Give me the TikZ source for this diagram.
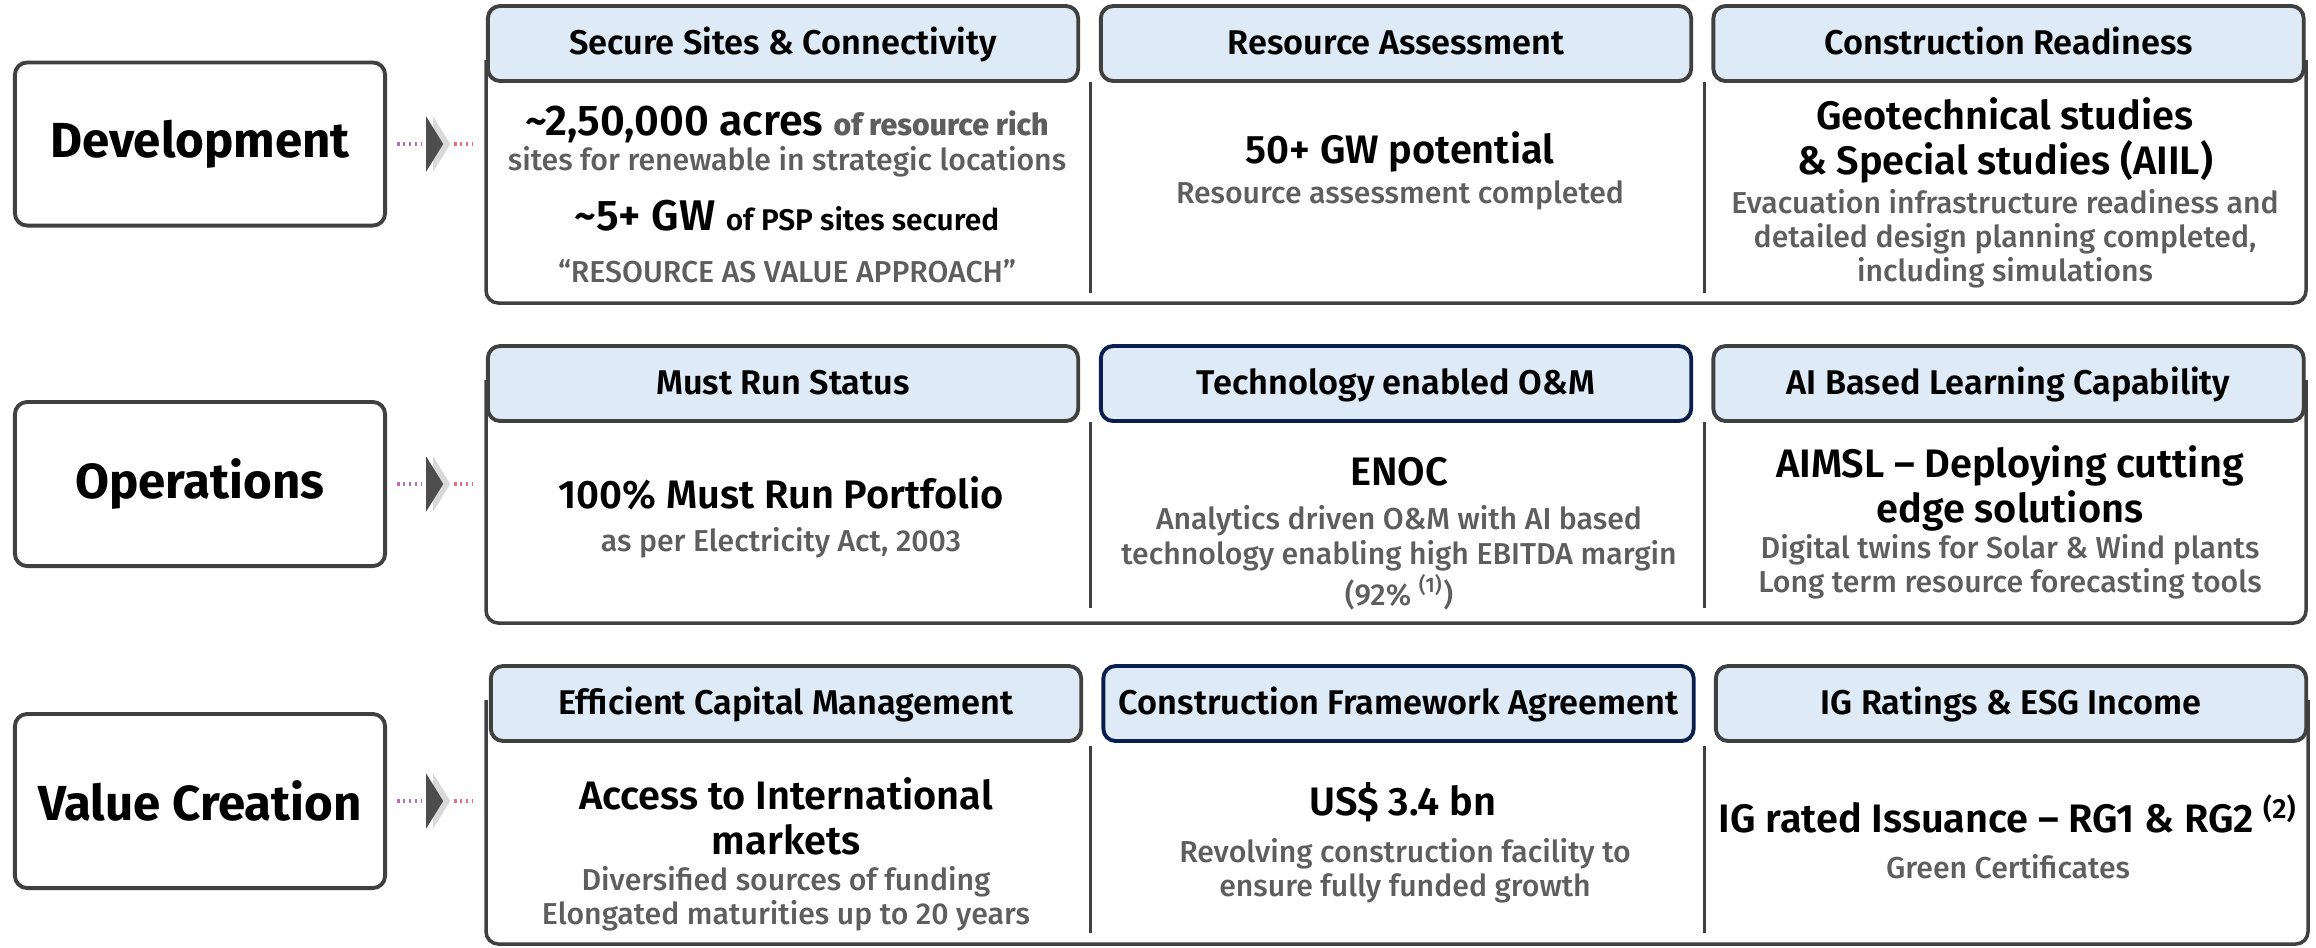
\documentclass[tikz,border=0pt]{standalone}
\usepackage{fontspec}
\setmainfont{Fira Sans}[BoldFont={Fira Sans SemiBold}]
\newfontfamily\heavyfont{Fira Sans Bold}
\newfontfamily\medfont{Fira Sans Medium}
\usetikzlibrary{shapes.geometric,shadows}

\definecolor{boxgray}{HTML}{404040}
\definecolor{hdblue}{HTML}{DEEAF6}
\definecolor{navy}{HTML}{0B1F4E}
\definecolor{txtgray}{HTML}{5E5E5E}
\definecolor{chevgray}{HTML}{4D4D4D}
\definecolor{dotpurple}{HTML}{BC6CBC}
\definecolor{dotpink}{HTML}{E2707C}

\newcommand\graysmall{\medfont\fontsize{8.6}{9.7}\selectfont\color{txtgray}}
\newcommand\blacksmall{\bfseries\fontsize{8.5}{9.7}\selectfont}

\begin{document}
\begin{tikzpicture}
  [x=0.01cm,y=-0.01cm,line join=round,
   stage/.style={draw=boxgray,line width=1.1pt,rounded corners=3.5pt,minimum width=3.7cm,
     font=\heavyfont\fontsize{14}{16}\selectfont},
   head/.style={draw=boxgray,fill=hdblue,line width=1.1pt,rounded corners=3.5pt,
     minimum width=5.9cm,minimum height=0.75cm,text height=1.6ex,text depth=0.45ex,
     font=\bfseries\fontsize{9.75}{11}\selectfont},
   navyhead/.style={head,draw=navy},
   panel/.style={draw=boxgray,line width=1pt,rounded corners=3.5pt},
   sepline/.style={draw=boxgray,line width=0.85pt},
   bigtxt/.style={font=\bfseries\fontsize{11.3}{12.8}\selectfont,align=center,inner sep=0pt},
   hugetxt/.style={bigtxt,font=\bfseries\fontsize{12.2}{14}\selectfont},
   notetxt/.style={font=\graysmall,align=center,inner sep=0pt},
   chev/.style={isosceles triangle,isosceles triangle stretches,fill=chevgray,
     minimum width=0.55cm,minimum height=0.17cm,inner sep=0pt,
     general shadow={fill=gray!30,shadow xshift=2pt}},
   dotl/.style={line width=0.9pt,dash pattern=on 0.7pt off 1pt}]

  % stages
  \node[stage,minimum height=1.63cm] (dev) at (200,144) {Development};
  \node[stage,minimum height=1.64cm] (ops) at (200,484) {Operations};
  \node[stage,minimum height=1.74cm] (val) at (200,801) {Value Creation};

  % panels behind the headers
  \foreach \t/\b/\r in {60/303/2306,380/623/2306,700/944/2308}
    \draw[panel] (486,\t) -- (486,\b) -- (\r,\b) -- (\r,\t);
  \foreach \x in {1090,1704}
    \foreach \a/\b in {82/293,422/608,746/933}
      \draw[sepline] (\x,\a) -- (\x,\b);

  % chevrons and dotted links
  \foreach \s/\y [count=\i] in {dev/144,ops/484,val/801} {
    \node[chev] (c\i) at (434,\y) {};
    \coordinate (p\i) at (472,\y);
    \draw[dotl,dotpurple,shorten <=0.1cm,shorten >=0.03cm] (\s.east |- c\i) -- (c\i.west);
    \draw[dotl,dotpink,shorten <=0.09cm] (c\i.east) -- (p\i);
  }

  % headers
  \node[head] (h11) at (783,43.5) {Secure Sites \& Connectivity};
  \node[head] (h12) at (1396,43.5) {Resource Assessment};
  \node[head] (h13) at (2008.5,43.5) {Construction Readiness};
  \node[head] (h21) at (783,383.5) {Must Run Status};
  \node[navyhead] (h22) at (1396,383.5) {Technology enabled O\&M};
  \node[head] (h23) at (2008.5,383.5) {AI Based Learning Capability};
  \node[head] (h31) at (786,703.5) {Efficient Capital Management};
  \node[navyhead] (h32) at (1398.5,703.5) {Construction Framework Agreement};
  \node[head] (h33) at (2011,703.5) {IG Ratings \& ESG Income};

  % development
  \node[hugetxt] (t11a) at (787,124) {\textasciitilde2,50,000 acres {\graysmall of resource rich}};
  \node[notetxt] (t11b) at (787,162) {sites for renewable in strategic locations};
  \node[hugetxt] (t11c) at (787,216) {\textasciitilde5+ GW {\blacksmall of PSP sites secured}};
  \node[notetxt] (t11d) at (787,271) {“RESOURCE AS VALUE APPROACH”};
  \node[bigtxt] (t12a) at (1400,152) {50+ GW potential};
  \node[notetxt] (t12b) at (1400,195) {Resource assessment completed};
  \node[bigtxt] (t13a) at (2005,140) {Geotechnical studies\\\& Special studies (AIIL)};
  \node[notetxt] (t13b) at (2005,239) {Evacuation infrastructure readiness and\\detailed design planning completed,\\including simulations};

  % operations
  \node[bigtxt] (t21a) at (781,493) {100\% Must Run Portfolio};
  \node[notetxt] (t21b) at (781,543) {as per Electricity Act, 2003};
  \node[bigtxt] (t22a) at (1399,472) {ENOC};
  \node[notetxt] (t22b) at (1399,558) {Analytics driven O\&M with AI based\\technology enabling high EBITDA margin\\(92\% \textsuperscript{(1)})};
  \node[bigtxt] (t23a) at (2010,488) {AIMSL -- Deploying cutting\\edge solutions};
  \node[notetxt] (t23b) at (2010,567) {Digital twins for Solar \& Wind plants\\Long term resource forecasting tools};

  % value creation
  \node[bigtxt] (t31a) at (786,816) {Access to International\\markets};
  \node[notetxt] (t31b) at (786,899) {Diversified sources of funding\\Elongated maturities up to 20 years};
  \node[bigtxt] (t32a) at (1403,802) {US\$ 3.4 bn};
  \node[notetxt] (t32b) at (1405,871) {Revolving construction facility to\\ensure fully funded growth};
  \node[bigtxt] (t33a) at (2008,814) {IG rated Issuance -- RG1 \& RG2 \textsuperscript{(2)}};
  \node[notetxt] (t33b) at (2008,867) {Green Certificates};

  \useasboundingbox (0,0) rectangle (2316,947);
\end{tikzpicture}
\end{document}
